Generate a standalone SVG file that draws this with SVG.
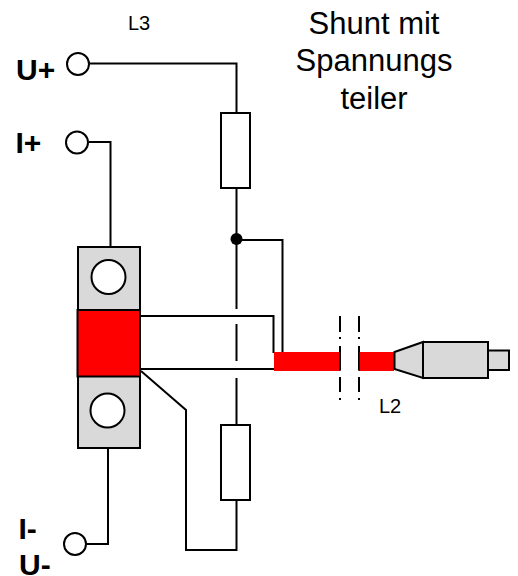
<svg xmlns="http://www.w3.org/2000/svg" width="518" height="576" viewBox="0 0 518 576">
<style>
.w{fill:none;stroke:#000;stroke-width:2;stroke-linejoin:miter}
.b{fill:#fff;stroke:#000;stroke-width:2}
.g{fill:#d9d9d9;stroke:#000;stroke-width:2}
.r{fill:#f00}
.d{fill:none;stroke:#000;stroke-width:2}
.t{font-family:"Liberation Sans",Arial,sans-serif;fill:#000}
.l{font-size:30px;font-weight:bold}
.s{font-size:20px}
.h{font-size:31px;text-anchor:middle}
</style>
<g id="connectors">
<path class="w" d="M90 63.500H236.500V113"/>
<path class="w" d="M89 142H110.500V247"/>
<path class="w" d="M236.500 188V239"/>
<path class="w" d="M236.500 240H282.500V353"/>
<path class="d" d="M236.500 239V309M236.500 324V361M236.500 378V425"/>
<path class="w" d="M140 316H273.500V353"/>
<path class="w" d="M140 369H274"/>
<path class="w" d="M108 448V544H87"/>
<path class="w" d="M141 371L186 410V550H236.500V500"/>
<path class="d" d="M340 316V332M340 337V339M340 346V370M340 377V392M340 398V400M359 316V332M359 337V339M359 346V370M359 377V392M359 398V400"/>
</g>
<g id="u-plus"><circle class="b" cx="78" cy="64" r="11"/><text class="t l" x="16" y="80">U+</text></g>
<g id="i-plus"><circle class="b" cx="77" cy="142.500" r="11"/><text class="t l" x="15.500" y="153">I+</text></g>
<g id="i-minus"><circle class="b" cx="75" cy="544" r="11"/><text class="t l" x="18.500" y="539">I-</text></g>
<g id="u-minus"><text class="t l" x="19" y="575">U-</text></g>
<g id="label-l3"><text class="t s" x="128" y="30">L3</text></g>
<g id="label-l2"><text class="t s" x="379" y="413">L2</text></g>
<g id="title"><text class="t h" x="374" y="34">Shunt mit</text><text class="t h" x="374" y="71">Spannungs</text><text class="t h" x="374" y="109">teiler</text></g>
<g id="resistor-top"><rect class="b" x="221" y="113" width="29" height="75"/></g>
<g id="resistor-bottom"><rect class="b" x="221" y="425" width="29" height="75"/></g>
<g id="junction"><circle cx="236.500" cy="239" r="6" fill="#000"/></g>
<g id="shunt">
<rect class="g" x="78" y="247" width="62" height="201"/>
<rect x="77.500" y="310" width="62.500" height="66.500" fill="#f00" stroke="#000" stroke-width="2"/>
<circle class="b" cx="108.500" cy="277" r="17"/>
<circle class="b" cx="107.500" cy="410.500" r="17"/>
</g>
<g id="cable">
<rect class="r" x="274" y="352" width="66" height="19"/>
<rect class="r" x="359" y="352" width="35" height="19"/>
<path class="d" d="M340 352V371M359 352V371" stroke-opacity="0.6"/>
</g>
<g id="plug">
<path class="g" d="M394.500 352L423 342V378L394.500 369Z"/>
<rect class="g" x="423" y="342" width="65" height="36"/>
<rect class="g" x="488" y="350.500" width="21" height="19.500"/>
</g>
</svg>
